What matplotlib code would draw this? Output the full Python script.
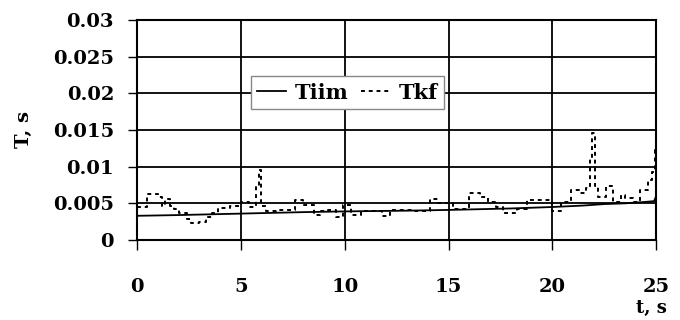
import matplotlib
matplotlib.use('Agg')
import matplotlib.pyplot as plt

# Tiim (solid) - smooth slowly rising curve
t_tiim = [0, 2, 5, 8, 10, 13, 15, 18, 20, 21.5, 22.5, 23.5, 24.5, 24.9, 25]
tiim = [0.0033, 0.0034, 0.0036, 0.0038, 0.0039, 0.0040, 0.0041, 0.0043,
        0.0045, 0.0047, 0.0049, 0.0050, 0.0052, 0.0053, 0.0060]

# Tkf (dashed) - step-like series with spikes
t_tkf = [0, 0.5, 1.0, 1.2, 1.35, 1.6, 1.8, 2.0, 2.4, 2.6, 3.0, 3.3, 3.6, 3.9,
         4.5, 5.0, 5.4, 5.75, 5.85, 5.95, 6.2, 6.7, 7.6, 8.0, 8.5, 8.8, 9.2,
         9.6, 9.9, 10.3, 10.8, 11.8, 12.2, 13.3, 14.1, 14.5, 15.2, 16.0, 16.5,
         16.9, 17.3, 17.6, 18.3, 18.8, 20.0, 20.4, 20.9, 21.3, 21.6, 21.8,
         21.9, 22.05, 22.2, 22.6, 22.9, 23.3, 23.5, 23.9, 24.2, 24.6, 24.8,
         24.95, 25.0]
tkf = [0.0045, 0.0063, 0.0059, 0.0047, 0.0056, 0.0046, 0.0042, 0.0037,
       0.0029, 0.0023, 0.0025, 0.0031, 0.0037, 0.0044, 0.0046, 0.0052,
       0.0045, 0.0072, 0.0096, 0.0046, 0.0040, 0.0041, 0.0055, 0.0048,
       0.0034, 0.0039, 0.0041, 0.0032, 0.0048, 0.0034, 0.0039, 0.0033,
       0.0041, 0.0039, 0.0056, 0.0050, 0.0042, 0.0064, 0.0059, 0.0052,
       0.0045, 0.0037, 0.0042, 0.0055, 0.0039, 0.0052, 0.0068, 0.0064,
       0.0071, 0.0110, 0.0146, 0.0073, 0.0059, 0.0073, 0.0052, 0.0062,
       0.0057, 0.0052, 0.0068, 0.0082, 0.0093, 0.0123, 0.0055]

x_ticks = [0, 5, 10, 15, 20, 25]
y_ticks = [0, 0.005, 0.01, 0.015, 0.02, 0.025, 0.03]
y_labels = ['0', '0.005', '0.01', '0.015', '0.02', '0.025', '0.03']

font = {'family': 'DejaVu Serif', 'weight': 'bold'}

fig = plt.figure(figsize=(6.8, 3.2), dpi=100)
ax = fig.add_axes([0.2015, 0.25, 0.7635, 0.6875])

ax.plot(t_tiim, tiim, color='black', lw=1.3, label='Tiim')
ax.plot(t_tkf, tkf, color='black', lw=1.4, ls=(0, (2, 2)),
        drawstyle='steps-post', label='Tkf')

ax.set_xlim(0, 25)
ax.set_ylim(0, 0.03)
ax.set_xticks(x_ticks)
ax.set_yticks(y_ticks)
ax.set_xticklabels([str(v) for v in x_ticks], fontdict=font, fontsize=14)
ax.set_yticklabels(y_labels, fontdict=font, fontsize=14)
ax.tick_params(axis='y', direction='out', length=6.5, width=1, pad=10)
ax.tick_params(axis='x', direction='out', length=7, width=1, pad=20)
ax.grid(True, color='black', lw=1.3)
for s in ax.spines.values():
    s.set_linewidth(1.5)

ax.set_ylabel('T, s', fontdict=font, fontsize=14)
ax.yaxis.set_label_coords(-0.2, 0.5)
ax.set_xlabel('t, s', fontdict=font, fontsize=13, va='center')
ax.xaxis.set_label_coords(0.99, -0.31)

leg = ax.legend(loc='center', bbox_to_anchor=(0.405, 0.67), ncol=2,
                prop={'family': 'DejaVu Serif', 'weight': 'bold', 'size': 15},
                fancybox=False, framealpha=1, edgecolor='#888888',
                handlelength=1.4, handletextpad=0.4, columnspacing=0.6,
                borderpad=0.3)
leg.get_frame().set_linewidth(1)

fig.savefig('out.png', dpi=100)
